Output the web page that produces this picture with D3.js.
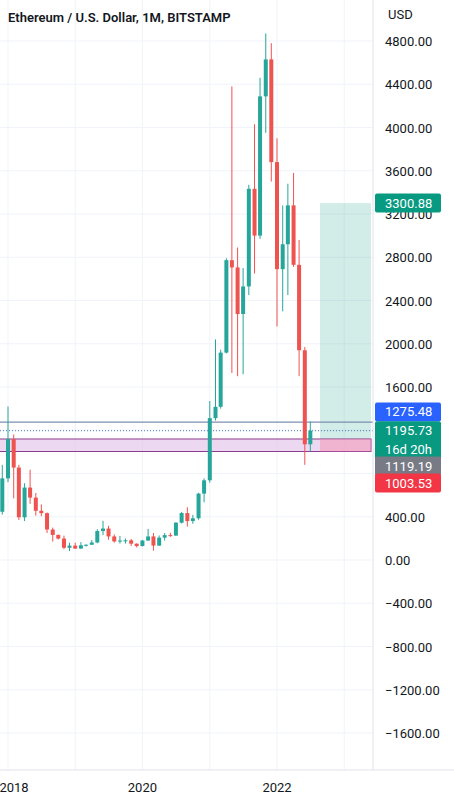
<!DOCTYPE html>
<html><head><meta charset="utf-8">
<script src="https://cdn.jsdelivr.net/npm/d3@7"></script>
<style>body{margin:0;background:#fff;font-family:Roboto,"Noto Sans",sans-serif}</style>
</head><body><svg id="c" width="454" height="800"></svg>
<script>
// monthly candles starting 2017-11: [open, high, low, close]
const startMonth = new Date(2017, 10, 1);
const ohlc = [
 [300,523,300,446],[446,880,420,755],[755,1420,720,1118],[1118,1160,570,855],
 [855,880,370,395],[395,710,360,670],[670,835,520,577],[577,620,410,455],
 [455,515,405,433],[433,440,250,282],[282,300,170,232],[232,235,190,198],
 [198,225,100,113],[113,160,82,133],[133,160,102,106],[106,165,103,136],
 [136,145,124,141],[141,185,140,162],[162,285,155,268],[268,362,230,291],
 [291,317,187,218],[218,237,160,172],[172,223,152,180],[180,199,152,182],
 [182,195,131,151],[151,153,116,129],[129,185,126,180],[180,287,176,218],
 [218,250,86,133],[133,227,131,207],[207,250,180,230],[230,252,215,226],
 [226,350,222,345],[345,445,338,434],[434,488,308,360],[360,417,335,386],
 [386,621,372,614],[614,755,534,737],[737,1470,715,1312],[1312,2040,1290,1417],
 [1417,1945,1400,1918],[1918,2790,1910,2773],[2773,4380,1730,2706],[2706,2890,1700,2275],
 [2275,2700,1718,2530],[2530,3470,2450,3433],[3433,4030,2650,3000],[3000,4460,2970,4288],
 [4288,4870,3950,4630],[4630,4780,3500,3680],[3680,3900,2160,2690],[2690,3280,2300,2920],
 [2920,3480,2450,3280],[3280,3580,2710,2730],[2730,2960,1700,1940],[1940,1970,880,1070],
 [1070,1280,1003,1196]
];
const yTicks = [4800,4400,4000,3600,3200,2800,2400,2000,1600,400,0,-400,-800,-1200,-1600];
const gridTicks = d3.range(-1600, 5201, 400);
const xTickYears = [2018, 2020, 2022];
const zoneLow = 1003.53, zoneHigh = 1119.19;
const lastPrice = 1195.73, entryLine = 1275.48, target = 3300.88;
// badge label, and the value where the stacked badge sits on the axis
const badges = [
 {text:["3300.88"], v:target, color:"#089981"},
 {text:["1275.48"], v:1369, color:"#2962ff"},
 {text:["1195.73","16d 20h"], v:lastPrice, color:"#089981"},
 {text:["1119.19"], v:869, color:"#787b86"},
 {text:["1003.53"], v:712, color:"#f23645"}
];

const svg = d3.select("#c");
const plotR = 373;
const y = d3.scaleLinear().domain([0, 4800]).range([560, 41]);
const x = d3.scaleTime().domain([new Date(2018,0,1), new Date(2022,0,1)]).range([8, 277]);
const monthDate = i => new Date(startMonth.getFullYear(), startMonth.getMonth() + i, 1);

// grid
svg.append("g").selectAll("line").data(gridTicks).join("line")
  .attr("x1",0).attr("x2",plotR).attr("y1",d=>y(d)).attr("y2",d=>y(d))
  .attr("stroke","#f0f3fa");
svg.append("g").selectAll("line").data(d3.range(2017,2024)).join("line")
  .attr("x1",d=>x(new Date(d,0,1))).attr("x2",d=>x(new Date(d,0,1)))
  .attr("y1",0).attr("y2",770).attr("stroke","#f0f3fa");

// zones
svg.append("rect").attr("x",320).attr("width",371-320)
  .attr("y",y(target)).attr("height",y(zoneHigh)-y(target))
  .attr("fill","#089981").attr("opacity",0.18);
svg.append("rect").attr("x",-2).attr("width",373)
  .attr("y",y(zoneHigh)).attr("height",y(zoneLow)-y(zoneHigh))
  .attr("fill","#e1bee7").attr("fill-opacity",0.6).attr("stroke","#8e3a8e").attr("stroke-width",1);
svg.append("rect").attr("x",320).attr("width",371-320)
  .attr("y",y(zoneHigh)).attr("height",y(zoneLow)-y(zoneHigh))
  .attr("fill","#f48fb1").attr("opacity",0.5);
svg.append("line").attr("x1",0).attr("x2",plotR).attr("y1",y(entryLine)).attr("y2",y(entryLine))
  .attr("stroke","#7b8fb0").attr("stroke-width",1.2);
svg.append("line").attr("x1",0).attr("x2",plotR).attr("y1",y(lastPrice)).attr("y2",y(lastPrice))
  .attr("stroke","#4a7bbd").attr("stroke-dasharray","1,2").attr("stroke-width",1);

// candles
const cw = 4;
const cg = svg.append("g").selectAll("g").data(ohlc).join("g");
const col = d => d[3] >= d[0] ? "#26a69a" : "#ef5350";
cg.append("line").attr("x1",(d,i)=>x(monthDate(i))).attr("x2",(d,i)=>x(monthDate(i)))
  .attr("y1",d=>y(d[1])).attr("y2",d=>y(d[2])).attr("stroke",col).attr("stroke-width",1);
cg.append("rect").attr("x",(d,i)=>x(monthDate(i))-cw/2).attr("width",cw)
  .attr("y",d=>y(Math.max(d[0],d[3])))
  .attr("height",d=>Math.max(1,Math.abs(y(d[0])-y(d[3])))).attr("fill",col);

// right axis
svg.append("rect").attr("x",plotR).attr("y",0).attr("width",454-plotR).attr("height",800).attr("fill","#fff");
svg.append("line").attr("x1",plotR).attr("x2",plotR).attr("y1",0).attr("y2",770).attr("stroke","#e0e3eb");
svg.append("line").attr("x1",0).attr("x2",454).attr("y1",770).attr("y2",770).attr("stroke","#e0e3eb");
svg.append("text").attr("x",388).attr("y",19).text("USD").attr("font-size",13).attr("fill","#131722");
svg.append("g").selectAll("text").data(yTicks).join("text")
  .attr("x",385).attr("y",d=>y(d)+5).text(d=>d3.format(".2f")(d))
  .attr("font-size",13).attr("fill","#131722");

// badges
badges.forEach(b => {
  const h = b.text.length === 2 ? 38 : 19;
  const top = y(b.v) - 9.5;
  svg.append("rect").attr("x",375).attr("y",top).attr("width",66).attr("height",h).attr("rx",2).attr("fill",b.color);
  b.text.forEach((t,k) => svg.append("text").attr("x",385).attr("y",top+14+k*19).text(t)
    .attr("font-size",13).attr("fill","#fff"));
});

// x axis
svg.append("g").selectAll("text").data(xTickYears).join("text")
  .attr("x",d=>Math.max(x(new Date(d,0,1)), 14)).attr("y",792).attr("text-anchor","middle")
  .text(d=>d).attr("font-size",13).attr("fill","#131722");

svg.append("text").attr("x",8).attr("y",22).text("Ethereum / U.S. Dollar, 1M, BITSTAMP")
  .attr("font-size",13).attr("font-weight",600).attr("fill","#131722");
</script></body></html>
